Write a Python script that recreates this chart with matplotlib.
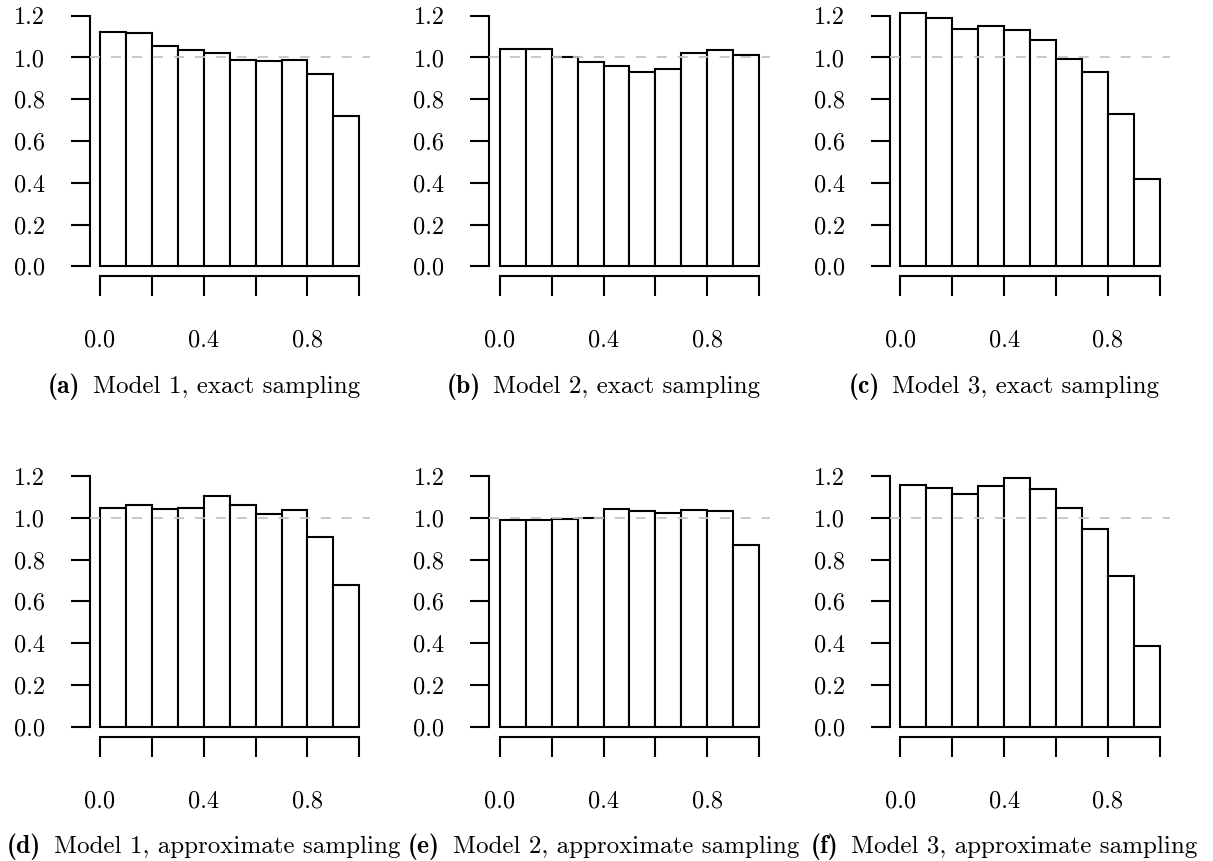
import matplotlib
matplotlib.use("Agg")
import matplotlib.pyplot as plt
import numpy as np
from matplotlib.offsetbox import TextArea, HPacker, AnnotationBbox

plt.rcParams['font.family'] = 'cmr10'
plt.rcParams['mathtext.fontset'] = 'cm'
plt.rcParams['lines.scale_dashes'] = False

# bin edges shared by all histograms
bin_edges = np.linspace(0.0, 1.0, 11)

# normalised densities per bin
m1_exact = [1.122, 1.119, 1.056, 1.037, 1.021, 0.988, 0.984, 0.988, 0.922, 0.722]
m2_exact = [1.040, 1.039, 1.003, 0.978, 0.959, 0.930, 0.944, 1.023, 1.036, 1.011]
m3_exact = [1.211, 1.190, 1.135, 1.151, 1.131, 1.085, 0.992, 0.932, 0.729, 0.417]
m1_approx = [1.049, 1.059, 1.040, 1.046, 1.102, 1.060, 1.016, 1.035, 0.906, 0.680]
m2_approx = [0.988, 0.988, 0.995, 0.998, 1.040, 1.033, 1.022, 1.036, 1.032, 0.868]
m3_approx = [1.157, 1.144, 1.113, 1.152, 1.190, 1.136, 1.048, 0.947, 0.719, 0.388]

panels = [m1_exact, m2_exact, m3_exact, m1_approx, m2_approx, m3_approx]
letters = ['(a)', '(b)', '(c)', '(d)', '(e)', '(f)']
captions = ['Model 1, exact sampling', 'Model 2, exact sampling',
            'Model 3, exact sampling', 'Model 1, approximate sampling',
            'Model 2, approximate sampling', 'Model 3, approximate sampling']

y_ticks = [0.0, 0.2, 0.4, 0.6, 0.8, 1.0, 1.2]
x_ticks = [0.0, 0.2, 0.4, 0.6, 0.8, 1.0]
x_ticklabels = ['0.0', '', '0.4', '', '0.8', '']

fig = plt.figure(figsize=(12.13, 8.61), dpi=100)

lefts = [0.0739, 0.4035, 0.7337]
bottoms = [0.679, 0.1444]
w, h = 0.2309, 0.3144
lw = 1.5

for i, vals in enumerate(panels):
    row, col = divmod(i, 3)
    ax = fig.add_axes([lefts[col], bottoms[row], w, h])

    ax.bar(bin_edges[:-1], vals, width=0.1, align='edge', facecolor='white',
           edgecolor='black', linewidth=lw, zorder=2)
    ax.axhline(1.0, color='#c4c4c4', linewidth=1.3, linestyle=(0, (7.2, 7.9)),
               zorder=3)

    # R-style axes: detached, spanning only the tick range
    ax.set_xlim(-0.04, 1.04)
    ax.set_ylim(-0.048, 1.248)
    for side in ['top', 'right']:
        ax.spines[side].set_visible(False)
    ax.spines['left'].set_bounds(0, 1.2)
    ax.spines['bottom'].set_bounds(0, 1.0)
    ax.spines['left'].set_linewidth(lw)
    ax.spines['bottom'].set_linewidth(lw)

    ax.set_yticks(y_ticks)
    ax.set_yticklabels([f'{t:.1f}' for t in y_ticks])
    ax.set_xticks(x_ticks)
    ax.set_xticklabels(x_ticklabels)
    ax.tick_params(axis='y', length=13.7, width=lw, pad=18.7, labelsize=17.5)
    ax.tick_params(axis='x', length=14.4, width=lw, pad=24, labelsize=17.5)

    # sub-caption: bold letter followed by the description
    tag = TextArea(letters[i], textprops=dict(family='cmb10', fontsize=18.5))
    desc = TextArea(captions[i], textprops=dict(family='cmr10', fontsize=18))
    box = HPacker(children=[tag, desc], align='baseline', pad=0, sep=9)
    pos = ax.get_position()
    cx = pos.x0 + pos.width / 2 - 26 / 1213
    cy = pos.y0 - 110 / 861
    fig.add_artist(AnnotationBbox(box, (cx, cy), xycoords='figure fraction',
                                  frameon=False, box_alignment=(0.5, 0.5)))

plt.savefig('out.png', dpi=100)
